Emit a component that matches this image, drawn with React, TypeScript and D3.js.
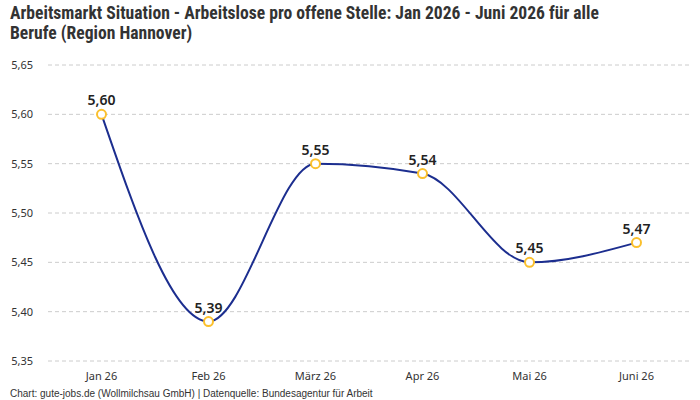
import React from "react";
import * as d3 from "d3";

const categories = ["Jan 26", "Feb 26", "März 26", "Apr 26", "Mai 26", "Juni 26"];
const values = [5.6, 5.39, 5.55, 5.54, 5.45, 5.47];
const yTicks = [5.35, 5.4, 5.45, 5.5, 5.55, 5.6, 5.65];
const titleLines = [
  "Arbeitsmarkt Situation - Arbeitslose pro offene Stelle: Jan 2026 - Juni 2026 für alle",
  "Berufe (Region Hannover)",
];
const footer = "Chart: gute-jobs.de (Wollmilchsau GmbH) | Datenquelle: Bundesagentur für Arbeit";

const W = 700;
const H = 400;
const fmt = (v: number) => v.toFixed(2).replace(".", ",");

export default function App() {
  const x = d3.scaleBand<string>().domain(categories).range([48, 690]);
  const y = d3.scaleLinear().domain([5.35, 5.65]).range([361, 65]);
  const cx = (c: string) => (x(c) as number) + x.bandwidth() / 2;
  const line = d3
    .line<number>()
    .x((_, i) => cx(categories[i]))
    .y((d) => y(d))
    .curve(d3.curveMonotoneX);
  const font = "'Noto Sans', 'DejaVu Sans', sans-serif";
  return (
    <svg
      width={W}
      height={H}
      style={{ position: "absolute", left: 0, top: 0, background: "#fff" }}
      fontFamily={font}
    >
      {titleLines.map((t, i) => (
        <text
          key={i}
          x={10}
          y={19 + i * 20}
          fontSize={17.6}
          fontWeight={700}
          fill="#333"
          fontFamily="'Liberation Sans Narrow', 'Roboto', sans-serif"
          style={{ fontStretch: "condensed" }}
        >
          {t}
        </text>
      ))}
      {yTicks.map((t) => (
        <g key={t}>
          <line
            x1={48}
            x2={690}
            y1={y(t)}
            y2={y(t)}
            stroke="#cccccc"
            strokeDasharray="4,3"
          />
          <text x={33} y={y(t) + 4} fontSize={11} fill="#333" textAnchor="end">
            {fmt(t)}
          </text>
        </g>
      ))}
      {categories.map((c) => (
        <text key={c} x={cx(c)} y={380} fontSize={11} fill="#333" textAnchor="middle">
          {c}
        </text>
      ))}
      <path d={line(values) || ""} fill="none" stroke="#1c2e8f" strokeWidth={2} />
      {values.map((v, i) => (
        <g key={i}>
          <circle
            cx={cx(categories[i])}
            cy={y(v)}
            r={4.5}
            fill="#fff"
            stroke="#fbc02d"
            strokeWidth={2}
          />
          <text
            x={cx(categories[i])}
            y={y(v) - 9}
            fontSize={14}
            fontWeight={600}
            fill="#222"
            textAnchor="middle"
          >
            {fmt(v)}
          </text>
        </g>
      ))}
      <text
        x={10}
        y={397}
        fontSize={10}
        fill="#333"
        fontFamily="'Liberation Sans', Arial, sans-serif"
      >
        {footer}
      </text>
    </svg>
  );
}
